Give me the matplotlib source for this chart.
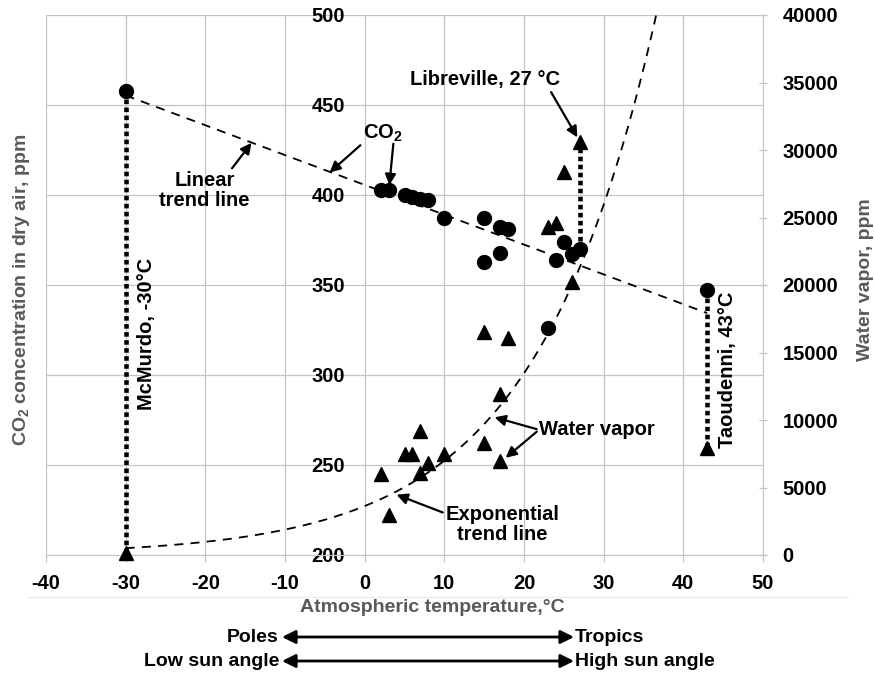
import numpy as np
import matplotlib.pyplot as plt
from matplotlib.lines import Line2D

plt.rcParams['font.family'] = ['Liberation Sans', 'DejaVu Sans']
plt.rcParams['font.weight'] = 'bold'
plt.rcParams['axes.unicode_minus'] = False
plt.rcParams['mathtext.fontset'] = 'custom'
plt.rcParams['mathtext.rm'] = 'Liberation Sans:bold'
plt.rcParams['mathtext.bf'] = 'Liberation Sans:bold'
plt.rcParams['mathtext.it'] = 'Liberation Sans:bold'

# CO2 in dry air (left axis), ppm
co2_temp = [-30, 2, 3, 5, 6, 7, 8, 10, 15, 15, 17, 17, 18, 23, 24, 25, 26, 27, 43]
co2_ppm = [458, 403, 403, 400, 399, 398, 397, 387, 387, 363, 382, 368, 381,
           326, 364, 374, 367, 370, 347]

# water vapor (right axis), ppm
vap_temp = [-30, 2, 3, 5, 6, 7, 7, 8, 10, 15, 15, 17, 17, 18, 23, 24, 25, 26, 27, 43]
vap_ppm = [150, 6000, 3000, 7500, 7500, 9200, 6100, 6800, 7500, 16500, 8300,
           11900, 7000, 16100, 24300, 24600, 28400, 20200, 30600, 7900]

# stations joined by dotted lines: (temp, CO2 ppm, vapor ppm)
stations = [(-30, 458, 150), (27, 370, 30600), (43, 347, 7900)]

x_ticks = np.arange(-40, 51, 10)
co2_ticks = np.arange(200, 501, 50)
vap_ticks = np.arange(0, 40001, 5000)

GRID = '#c4c4c4'
GREY_TXT = '#595959'
FS = 14.5

fig = plt.figure(figsize=(8.75, 6.73), dpi=100)
ax = fig.add_axes([46 / 875, 1 - 555 / 673, 717 / 875, 540 / 673])
ax2 = ax.twinx()

ax.set_xlim(-40, 50)
ax.set_ylim(200, 500)
ax2.set_ylim(0, 40000)

ax.set_xticks(x_ticks)
ax.set_yticks(co2_ticks)
ax2.set_yticks(vap_ticks)
ax.grid(True, color=GRID, lw=0.9)
ax.set_axisbelow(True)

for s in ['top', 'right']:
    ax.spines[s].set_visible(False)
ax.spines['left'].set_position(('data', 0))
ax.spines['left'].set_visible(False)
ax.spines['bottom'].set_color(GRID)
for s in ['top', 'left', 'bottom']:
    ax2.spines[s].set_visible(False)
ax2.spines['right'].set_color(GRID)

ax.tick_params(axis='x', colors=GRID, length=5, width=0.9, labelcolor='black',
               labelsize=FS, pad=9)
ax.tick_params(axis='y', length=0, labelsize=FS, pad=14)
ax2.tick_params(axis='y', colors=GRID, length=6, width=0.9, direction='inout',
                labelcolor='black', labelsize=FS, pad=11)
for lab in ax.get_xticklabels() + ax.get_yticklabels() + ax2.get_yticklabels():
    lab.set_fontweight('bold')

# trend lines fitted from the data, as the spreadsheet does
lin = np.polyfit(co2_temp, co2_ppm, 1)
xl = np.linspace(min(co2_temp), max(co2_temp), 50)
ax.plot(xl, np.polyval(lin, xl), color='black', lw=1.3, ls=(0, (5, 4)), zorder=3)

ex = np.polyfit(vap_temp, np.log(vap_ppm), 1)
xe = np.linspace(min(vap_temp), 50, 300)
ax2.plot(xe, np.exp(np.polyval(ex, xe)), color='black', lw=1.3, ls=(0, (5, 4)),
         zorder=3)

# dotted connectors between the two series at named stations
to_co2 = ax.transData.inverted()
for t, c, v in stations:
    v_in_co2 = to_co2.transform(ax2.transData.transform((t, v)))[1]
    ax.plot([t, t], [c, v_in_co2], color='black', lw=3.3,
            ls=(0, (1, 0.75)), dash_capstyle='butt', zorder=2, clip_on=False)

ax.plot(co2_temp, co2_ppm, 'o', color='black', ms=10, zorder=4, clip_on=False)
ax2.plot(vap_temp, vap_ppm, '^', color='black', ms=10, zorder=4, clip_on=False)

arrow = dict(arrowstyle='-|>', color='black', lw=1.6, mutation_scale=16,
             shrinkA=0, shrinkB=0)

ax.annotate('Libreville, 27 °C', xy=(26.7, 432), xytext=(15.1, 464),
            ha='center', va='center', fontsize=FS,
            arrowprops=dict(arrow, relpos=(0.93, 0.0)))
ax.annotate('CO$_2$', xy=(-4.4, 412.5), xytext=(2.3, 434.5),
            ha='center', va='center', fontsize=FS,
            arrowprops=dict(arrow, relpos=(0.1, 0.2)))
ax.annotate('', xy=(3.1, 405.5), xytext=(3.6, 428.5), arrowprops=arrow)
ax.annotate('Linear\ntrend line', xy=(-14.2, 429), xytext=(-20.1, 402.5),
            ha='center', va='center', fontsize=FS, linespacing=1.05,
            arrowprops=dict(arrow, relpos=(0.78, 1.0)))
ax.annotate('Water vapor', xy=(16.3, 276.5), xytext=(29.2, 269.5),
            ha='center', va='center', fontsize=FS,
            arrowprops=dict(arrow, relpos=(0.0, 0.5)))
ax.annotate('', xy=(17.7, 254), xytext=(21.6, 268.5), arrowprops=arrow)
ax.annotate('Exponential\ntrend line', xy=(4.0, 233.5), xytext=(17.3, 217),
            ha='center', va='center', fontsize=FS, linespacing=1.05,
            arrowprops=dict(arrow, relpos=(0.0, 0.78)))

ax.text(-27.4, 323, 'McMurdo, -30°C', rotation=90, ha='center', va='center',
        fontsize=FS)
ax.text(45.5, 303, 'Taoudenni, 43°C', rotation=90, ha='center', va='center',
        fontsize=FS)

# axis titles
fig.text(22 / 875, 1 - 290 / 673, 'CO$_2$ concentration in dry air, ppm',
         rotation=90, ha='center', va='center', fontsize=14, color=GREY_TXT)
fig.text(866 / 875, 1 - 280 / 673, 'Water vapor, ppm', rotation=90,
         ha='center', va='center', fontsize=14, color=GREY_TXT)
fig.text(432 / 875, 1 - 608 / 673, 'Atmospheric temperature,°C', ha='center',
         va='center', fontsize=14, color=GREY_TXT)

fig.add_artist(Line2D([28 / 875, 848 / 875], [1 - 597 / 673] * 2,
                      color='#ebebeb', lw=1))

# pole-to-tropics arrows under the axis
for y, left, right in [(637, 'Poles', 'Tropics'),
                       (661, 'Low sun angle', 'High sun angle')]:
    yf = 1 - y / 673
    fig.text(279 / 875, yf, left, ha='right', va='center', fontsize=14)
    fig.text(575 / 875, yf, right, ha='left', va='center', fontsize=14)
    ax.annotate('', xy=(574 / 875, yf), xytext=(282 / 875, yf),
                xycoords='figure fraction', textcoords='figure fraction',
                arrowprops=dict(arrowstyle='<|-|>', color='black', lw=2.0,
                                mutation_scale=20, shrinkA=0, shrinkB=0))

fig.savefig('out.png', dpi=100)
